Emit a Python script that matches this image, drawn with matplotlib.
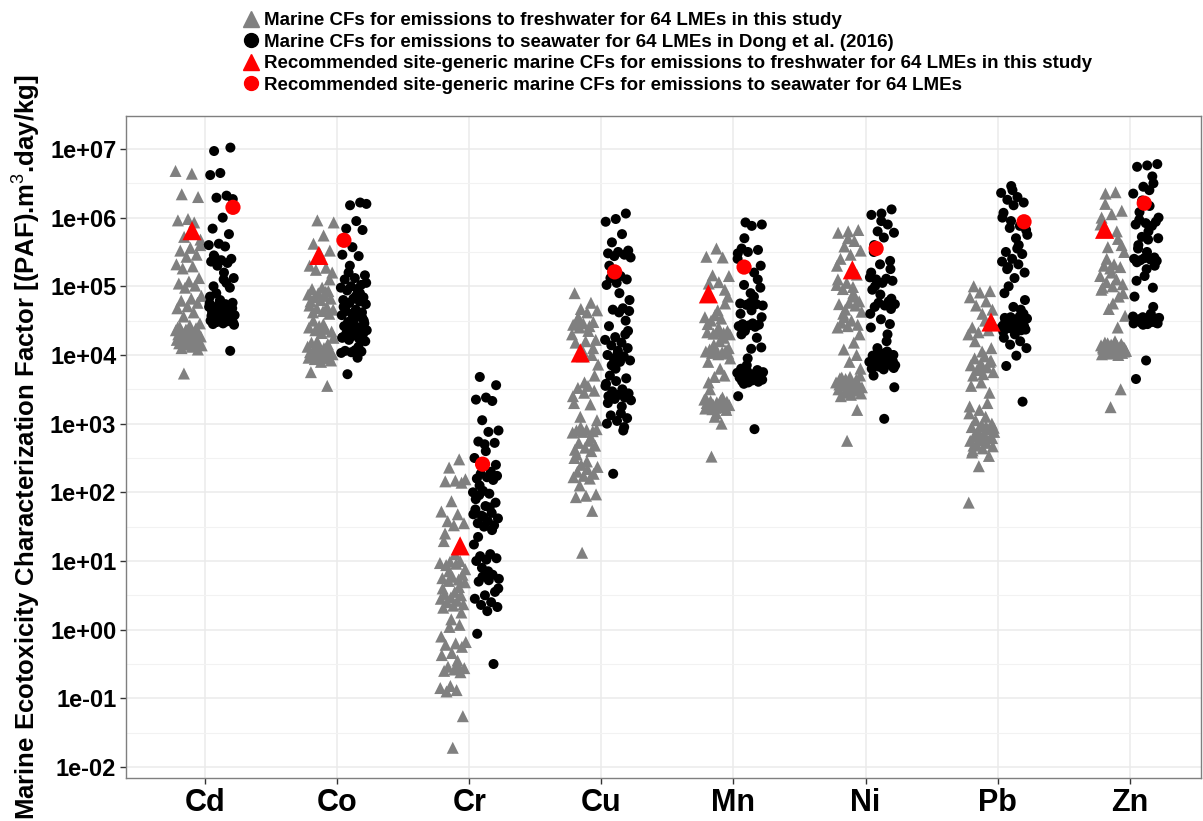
import numpy as np
import matplotlib
matplotlib.use("Agg")
import matplotlib.pyplot as plt
from matplotlib.lines import Line2D

plt.rcParams['font.family'] = ['Liberation Sans', 'DejaVu Sans']
plt.rcParams['mathtext.fontset'] = 'custom'
plt.rcParams['mathtext.rm'] = 'Liberation Sans'

metals = ['Cd', 'Co', 'Cr', 'Cu', 'Mn', 'Ni', 'Pb', 'Zn']

# log10 of CFs, 64 LMEs per metal
# emissions to freshwater (this study)
fresh_log = {
    'Cd': [6.68, 6.64, 6.34, 6.30, 5.98, 5.96, 5.93, 5.72,
           5.68, 5.56, 5.52, 5.46, 5.43, 5.32, 5.29, 5.26,
           5.12, 5.07, 5.04, 5.01, 4.98, 4.86, 4.82, 4.79,
           4.76, 4.71, 4.68, 4.62, 4.56, 4.46, 4.43, 4.41,
           4.39, 4.37, 4.36, 4.34, 4.33, 4.32, 4.31, 4.30,
           4.29, 4.28, 4.27, 4.26, 4.25, 4.24, 4.23, 4.22,
           4.21, 4.20, 4.19, 4.18, 4.17, 4.16, 4.15, 4.14,
           4.12, 4.10, 4.08, 4.35, 4.40, 4.30, 3.73, 5.60],
    'Co': [5.96, 5.93, 5.74, 5.62, 5.52, 5.48, 5.30, 5.27,
           5.24, 5.20, 4.98, 4.96, 4.93, 4.90, 4.88, 4.86,
           4.84, 4.82, 4.80, 4.78, 4.70, 4.68, 4.66, 4.64,
           4.62, 4.60, 4.42, 4.40, 4.38, 4.36, 4.34, 4.32,
           4.18, 4.16, 4.14, 4.12, 4.10, 4.08, 4.06, 4.05,
           4.04, 4.03, 4.02, 4.01, 4.00, 3.99, 3.98, 3.97,
           3.96, 3.95, 3.94, 3.92, 3.90, 3.75, 3.55, 4.20,
           4.25, 4.45, 4.50, 5.10, 5.40, 4.72, 4.92, 4.00],
    'Cr': [2.48, 2.36, 2.19, 2.17, 2.16, 2.14, 1.87, 1.72,
           1.68, 1.58, 1.55, 1.52, 1.29, 1.00, 0.99, 0.97,
           0.96, 0.94, 0.80, 0.77, 0.75, 0.73, 0.71, 0.69,
           0.55, 0.52, 0.50, 0.47, 0.45, 0.42, 0.40, 0.37,
           0.35, 0.32, 0.07, 0.04, -0.18, -0.20, -0.22, -0.25,
           -0.34, -0.37, -0.52, -0.54, -0.56, -0.58, -0.60, -0.62,
           -0.82, -0.85, -0.88, -0.90, -1.26, -1.72, 0.60, 0.62,
           0.85, 0.88, 1.10, 1.40, 0.25, 0.15, -0.10, -0.45],
    'Cu': [4.90, 4.76, 4.67, 4.65, 4.62, 4.50, 4.48, 4.46,
           4.44, 4.42, 4.40, 4.22, 4.20, 4.18, 4.00, 3.98,
           3.86, 3.55, 3.52, 3.48, 3.45, 3.30, 3.28, 3.10,
           2.92, 2.91, 2.90, 2.89, 2.88, 2.87, 2.75, 2.72,
           2.68, 2.65, 2.62, 2.60, 2.40, 2.37, 2.34, 2.30,
           2.27, 2.24, 2.22, 2.20, 2.10, 1.97, 1.95, 1.93,
           1.73, 1.12, 4.30, 4.35, 4.55, 3.70, 3.60, 2.50,
           2.80, 2.95, 3.05, 2.45, 2.55, 4.10, 4.05, 3.40],
    'Mn': [5.55, 5.43, 5.42, 5.16, 5.15, 5.06, 5.04, 4.75,
           4.58, 4.55, 4.53, 4.50, 4.35, 4.34, 4.33, 4.32,
           4.31, 4.30, 4.20, 4.08, 4.07, 4.06, 4.05, 4.04,
           4.03, 4.02, 4.01, 3.90, 3.70, 3.68, 3.35, 3.34,
           3.33, 3.32, 3.31, 3.30, 3.29, 3.28, 3.27, 3.26,
           3.25, 3.24, 3.23, 3.22, 3.00, 2.52, 4.85, 4.65,
           4.45, 4.25, 4.15, 3.95, 3.80, 3.50, 3.20, 3.15,
           3.36, 3.38, 3.21, 4.10, 4.40, 3.60, 4.95, 3.10],
    'Ni': [5.82, 5.80, 5.78, 5.66, 5.58, 5.52, 5.46, 5.40,
           5.17, 5.05, 5.02, 4.99, 4.96, 4.78, 4.76, 4.74,
           4.72, 4.66, 4.63, 4.50, 4.47, 4.44, 4.42, 4.40,
           4.18, 4.08, 3.70, 3.68, 3.66, 3.64, 3.62, 3.60,
           3.58, 3.56, 3.54, 3.52, 3.50, 3.48, 3.46, 3.44,
           3.42, 3.40, 3.20, 2.75, 5.30, 4.90, 4.60, 4.30,
           3.90, 3.57, 3.61, 3.65, 3.53, 3.49, 3.67, 3.55,
           5.70, 5.10, 4.85, 4.55, 3.80, 3.45, 3.63, 4.00],
    'Pb': [5.00, 4.93, 4.91, 4.84, 4.78, 4.72, 4.66, 4.60,
           4.40, 4.36, 4.33, 4.30, 3.98, 3.95, 3.92, 3.88,
           3.85, 3.82, 3.78, 3.75, 3.72, 3.70, 3.45, 3.20,
           3.15, 3.10, 3.05, 3.00, 2.98, 2.95, 2.92, 2.90,
           2.88, 2.85, 2.82, 2.80, 2.78, 2.75, 2.72, 2.70,
           2.67, 2.64, 2.61, 2.53, 2.38, 1.85, 4.50, 4.20,
           4.10, 3.60, 3.55, 3.30, 2.86, 2.94, 2.76, 2.68,
           3.90, 3.80, 3.25, 2.96, 2.84, 2.79, 4.05, 2.58],
    'Zn': [6.37, 6.35, 6.10, 6.05, 6.00, 5.69, 5.57, 5.50,
           5.32, 5.30, 5.28, 5.26, 5.15, 5.10, 5.06, 5.03,
           5.00, 4.98, 4.85, 4.67, 4.57, 4.20, 4.18, 4.16,
           4.15, 4.14, 4.13, 4.12, 4.11, 4.10, 4.09, 4.08,
           4.07, 4.06, 4.05, 4.04, 4.03, 4.02, 4.01, 4.00,
           4.12, 4.10, 4.08, 4.14, 3.50, 3.24, 5.90, 5.80,
           5.40, 4.90, 4.75, 4.11, 4.09, 4.13, 4.06, 4.04,
           6.20, 5.60, 5.20, 4.95, 4.40, 4.17, 4.05, 4.15],
}

# emissions to seawater (Dong et al. 2016)
sea_log = {
    'Cd': [6.97, 7.02, 6.65, 6.62, 6.32, 6.29, 6.27, 6.00,
           5.84, 5.76, 5.62, 5.60, 5.58, 5.42, 5.40, 5.38,
           5.36, 5.34, 5.30, 5.12, 5.10, 5.00, 4.98, 4.78,
           4.75, 4.72, 4.70, 4.68, 4.66, 4.64, 4.62, 4.60,
           4.58, 4.56, 4.55, 4.54, 4.52, 4.50, 4.49, 4.48,
           4.47, 4.46, 4.45, 4.62, 4.65, 4.70, 4.74, 4.58,
           4.53, 4.51, 4.57, 4.63, 4.67, 4.44, 5.20, 5.45,
           4.06, 4.80, 4.85, 5.05, 4.90, 4.76, 4.69, 4.61],
    'Co': [6.22, 6.18, 6.20, 5.95, 5.84, 5.82, 5.57, 5.46,
           5.44, 5.20, 5.16, 5.12, 5.10, 5.02, 5.00, 4.98,
           4.96, 4.94, 4.84, 4.82, 4.80, 4.78, 4.76, 4.74,
           4.66, 4.64, 4.62, 4.60, 4.58, 4.56, 4.48, 4.46,
           4.44, 4.42, 4.40, 4.38, 4.36, 4.34, 4.32, 4.30,
           4.28, 4.26, 4.24, 4.22, 4.20, 4.07, 4.06, 4.05,
           4.04, 4.03, 3.96, 3.72, 4.50, 4.52, 4.70, 4.90,
           5.30, 5.05, 4.86, 4.72, 4.54, 4.35, 4.25, 4.12],
    'Cr': [3.68, 3.56, 3.38, 3.35, 3.33, 3.05, 2.90, 2.88,
           2.74, 2.72, 2.70, 2.50, 2.30, 2.27, 2.24, 2.22,
           2.20, 2.18, 2.02, 2.00, 1.98, 1.96, 1.85, 1.80,
           1.75, 1.70, 1.66, 1.62, 1.58, 1.55, 1.52, 1.50,
           1.24, 1.10, 1.07, 1.04, 1.02, 1.00, 0.80, 0.77,
           0.74, 0.72, 0.70, 0.55, 0.50, 0.45, 0.40, 0.36,
           0.33, 0.27, -0.06, -0.50, 1.64, 1.68, 1.78, 2.10,
           2.40, 2.60, 1.90, 1.45, 0.90, 0.60, 0.85, 1.35],
    'Cu': [6.06, 5.98, 5.94, 5.76, 5.64, 5.52, 5.50, 5.48,
           5.46, 5.44, 5.42, 5.15, 5.12, 5.10, 5.05, 5.02,
           4.68, 4.66, 4.64, 4.62, 4.42, 4.30, 4.26, 4.22,
           4.18, 4.14, 4.10, 4.02, 4.00, 3.98, 3.95, 3.92,
           3.90, 3.70, 3.66, 3.62, 3.58, 3.50, 3.47, 3.44,
           3.42, 3.40, 3.38, 3.36, 3.34, 3.15, 3.12, 3.08,
           3.04, 3.00, 2.90, 2.27, 4.80, 4.90, 5.30, 4.50,
           3.80, 3.55, 3.25, 3.85, 4.35, 4.06, 3.30, 2.95],
    'Mn': [5.93, 5.90, 5.88, 5.55, 5.53, 5.50, 5.48, 5.20,
           5.02, 4.98, 4.76, 4.75, 4.74, 4.73, 4.72, 4.46,
           4.45, 4.44, 4.43, 4.42, 4.41, 4.35, 4.11, 4.09,
           3.80, 3.78, 3.76, 3.74, 3.72, 3.70, 3.69, 3.68,
           3.67, 3.66, 3.65, 3.64, 3.63, 3.62, 3.61, 3.60,
           3.40, 2.92, 5.70, 5.30, 4.90, 4.60, 4.25, 3.85,
           3.75, 3.71, 3.66, 3.64, 3.70, 3.73, 3.68, 3.62,
           4.55, 4.65, 4.30, 5.10, 3.95, 5.40, 4.85, 3.58],
    'Ni': [6.12, 6.06, 6.04, 5.90, 5.80, 5.78, 5.71, 5.50,
           5.37, 5.32, 5.13, 5.11, 5.10, 5.08, 5.05, 4.95,
           4.78, 4.76, 4.74, 4.72, 4.70, 4.67, 4.52, 4.40,
           4.05, 4.02, 4.00, 3.98, 3.96, 3.94, 3.92, 3.90,
           3.88, 3.86, 3.84, 3.82, 3.80, 3.93, 3.97, 3.53,
           3.07, 5.60, 5.25, 4.88, 4.60, 4.20, 3.89, 3.91,
           3.95, 3.99, 3.87, 3.83, 3.85, 4.03, 5.00, 4.82,
           5.95, 5.20, 4.30, 4.10, 3.81, 3.79, 3.70, 4.45],
    'Pb': [6.46, 6.36, 6.30, 6.26, 6.22, 6.18, 6.07, 5.88,
           5.85, 5.82, 5.70, 5.50, 5.47, 5.40, 5.36, 5.32,
           5.28, 5.20, 5.12, 4.90, 4.66, 4.55, 4.53, 4.51,
           4.49, 4.47, 4.45, 4.43, 4.41, 4.39, 4.37, 4.35,
           4.52, 4.48, 4.44, 4.40, 4.46, 4.50, 4.42, 4.38,
           4.25, 4.20, 4.15, 4.10, 3.99, 3.84, 3.32, 6.40,
           6.00, 5.60, 5.00, 4.80, 4.30, 4.54, 4.36, 5.95,
           5.75, 5.55, 5.25, 4.60, 4.70, 4.34, 4.56, 4.44],
    'Zn': [6.78, 6.76, 6.74, 6.50, 6.45, 6.35, 6.17, 6.08,
           5.94, 5.92, 5.90, 5.88, 5.72, 5.70, 5.68, 5.55,
           5.42, 5.41, 5.40, 5.39, 5.38, 5.37, 5.25, 5.08,
           4.98, 4.55, 4.54, 4.53, 4.52, 4.51, 4.50, 4.49,
           4.48, 4.47, 4.46, 4.45, 4.50, 4.52, 4.48, 4.46,
           4.54, 4.51, 4.47, 3.92, 3.65, 6.60, 6.25, 6.00,
           5.80, 5.60, 5.30, 5.15, 4.85, 4.60, 4.49, 4.53,
           5.50, 5.35, 4.70, 4.44, 4.56, 6.40, 5.97, 4.50],
}

# recommended site-generic CFs (log10)
rec_fresh_log = [5.81, 5.45, 1.22, 4.03, 4.89, 5.24, 4.48, 5.83]
rec_sea_log = [6.15, 5.67, 2.41, 5.21, 5.28, 5.55, 5.94, 6.21]
rec_fresh_dx = [-0.10, -0.14, -0.07, -0.16, -0.19, -0.10, -0.05, -0.19]
rec_sea_dx = [0.21, 0.05, 0.10, 0.10, 0.08, 0.08, 0.20, 0.11]

labels = ['Marine CFs for emissions to freshwater for 64 LMEs in this study',
          'Marine CFs for emissions to seawater for 64 LMEs in Dong et al. (2016)',
          'Recommended site-generic marine CFs for emissions to freshwater for 64 LMEs in this study',
          'Recommended site-generic marine CFs for emissions to seawater for 64 LMEs']

GREY = '#808080'

fig = plt.figure(figsize=(12.03, 8.21), dpi=100)
ax = fig.add_axes([126/1203, 43/821, 1075/1203, 662/821])

n = 64
idx = np.arange(n)
for i, m in enumerate(metals):
    x0 = i + 1
    # deterministic spread (golden-ratio sequence) in place of ggplot's jitter
    jf = ((idx * 0.618034 + i * 0.37) % 1 - 0.5) * 0.2
    js = ((idx * 0.618034 + i * 0.53 + 0.21) % 1 - 0.5) * 0.2
    ax.scatter(x0 - 0.125 + jf, 10 ** np.array(fresh_log[m]), marker='^', s=75,
               color=GREY, edgecolors='none', zorder=3)
    ax.scatter(x0 + 0.125 + js, 10 ** np.array(sea_log[m]), marker='o', s=52,
               color='black', edgecolors='none', zorder=3)

xs = np.arange(1, len(metals) + 1)
ax.scatter(xs + np.array(rec_fresh_dx), 10 ** np.array(rec_fresh_log), marker='^', s=190,
           color='red', edgecolors='none', zorder=4)
ax.scatter(xs + np.array(rec_sea_dx), 10 ** np.array(rec_sea_log), marker='o', s=120,
           color='red', edgecolors='none', zorder=4)

ax.set_yscale('log')
yt = [10.0 ** k for k in range(-2, 8)]
ax.set_yticks(yt)
ax.set_yticklabels(['1e%+03d' % k for k in range(-2, 8)])
ax.set_yticks([10.0 ** (k + 0.5) for k in range(-2, 7)], minor=True)
ax.set_xticks(xs)
ax.set_xticklabels(metals)
# limits after the ticks, so the tick setting cannot widen them
ax.set_ylim(10 ** -2.16, 10 ** 7.48)
ax.set_xlim(0.4, 8.54)

ax.grid(True, which='major', color='#EBEBEB', linewidth=1.1, zorder=0)
ax.grid(True, which='minor', axis='y', color='#F2F2F2', linewidth=0.8, zorder=0)
ax.set_axisbelow(True)

ax.tick_params(axis='y', which='major', labelsize=17, length=4, width=1,
               color='#333333', pad=3)
ax.tick_params(axis='x', which='major', labelsize=22, length=4, width=1,
               color='#333333', pad=3)
ax.tick_params(which='minor', length=0)
for lab in ax.get_xticklabels() + ax.get_yticklabels():
    lab.set_fontweight('bold')

for s in ax.spines.values():
    s.set_color('#7F7F7F')
    s.set_linewidth(1.0)

ax.set_ylabel('Marine Ecotoxicity Characterization Factor [(PAF).m$^{3}$.day/kg]',
              fontsize=18.5, fontweight='bold')
ax.yaxis.set_label_coords(-0.078, 0.5)

handles = [
    Line2D([], [], marker='^', linestyle='none', color=GREY, markersize=12),
    Line2D([], [], marker='o', linestyle='none', color='black', markersize=10),
    Line2D([], [], marker='^', linestyle='none', color='red', markersize=12),
    Line2D([], [], marker='o', linestyle='none', color='red', markersize=10),
]
fig.legend(handles, labels, loc='upper left', bbox_to_anchor=(243/1203, 1 - 12/821),
           frameon=False, handlelength=0.8, handletextpad=0.3, borderaxespad=0,
           borderpad=0, labelspacing=0.24, prop={'size': 13.5, 'weight': 'bold'})

fig.savefig('out.png', dpi=100)
